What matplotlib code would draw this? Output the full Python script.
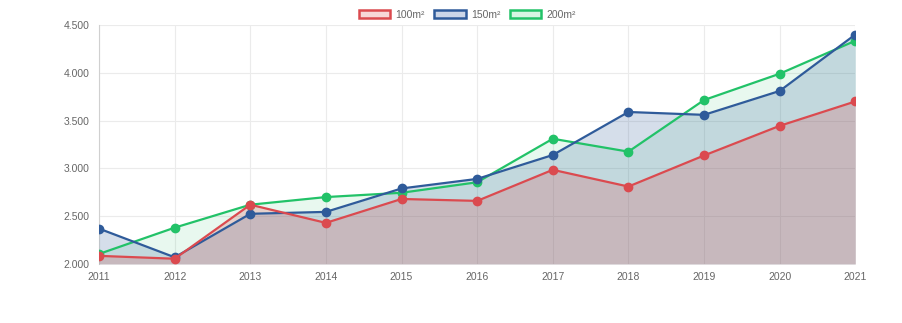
import matplotlib.pyplot as plt
from matplotlib.patches import Patch
from matplotlib.ticker import FuncFormatter

years = [2011, 2012, 2013, 2014, 2015, 2016, 2017, 2018, 2019, 2020, 2021]
labels = ["100m²", "150m²", "200m²"]
s100 = [2085, 2055, 2620, 2430, 2680, 2660, 2985, 2810, 3135, 3445, 3700]
s150 = [2370, 2070, 2525, 2545, 2790, 2890, 3140, 3590, 3560, 3810, 4400]
s200 = [2105, 2380, 2620, 2700, 2745, 2855, 3310, 3175, 3715, 3990, 4335]

colors = ["#db4a4f", "#2f5b9a", "#22c268"]
fills = [(0.86, 0.29, 0.31, 0.22), (0.18, 0.36, 0.60, 0.2), (0.13, 0.76, 0.41, 0.1)]
legend_fills = ["#f7d6d7", "#ccd6e8", "#d6f5e2"]

plt.rcParams["font.family"] = ["Liberation Sans", "DejaVu Sans"]

fig = plt.figure(figsize=(9.02, 3.23), dpi=100)
ax = fig.add_axes([0.1098, 0.1827, 0.8384, 0.7399])

series = [s100, s150, s200]
for i, (vals, c, f) in enumerate(zip(series, colors, fills)):
    z = 10 - i
    ax.fill_between(years, 2000, vals, color=f, linewidth=0, zorder=z - 5)
    ax.plot(years, vals, color=c, lw=1.6, marker="o", ms=6, zorder=z)

ax.set_xlim(2011, 2021)
ax.set_ylim(2000, 4500)
ax.set_xticks(years)
ax.set_yticks([2000, 2500, 3000, 3500, 4000, 4500])
ax.yaxis.set_major_formatter(FuncFormatter(lambda v, p: f"{int(v):,}".replace(",", ".")))
ax.grid(True, color="#ebebeb", lw=0.8, zorder=0)
for s in ["top", "right", "bottom"]:
    ax.spines[s].set_visible(False)
ax.spines["left"].set_color("#d0d0d0")
ax.tick_params(axis="both", labelcolor="#666666", labelsize=7.5, length=0)
ax.tick_params(axis="x", pad=6)
ax.tick_params(axis="y", pad=7)

handles = [Patch(facecolor=lf, edgecolor=c, linewidth=1.8) for lf, c in zip(legend_fills, colors)]
fig.legend(handles, labels, loc="center", bbox_to_anchor=(0.518, 0.955), ncol=3, frameon=False,
           fontsize=7.5, labelcolor="#666666", handlelength=3.0, handleheight=0.9,
           handletextpad=0.5, columnspacing=0.9)

fig.savefig("out.png", dpi=100)
